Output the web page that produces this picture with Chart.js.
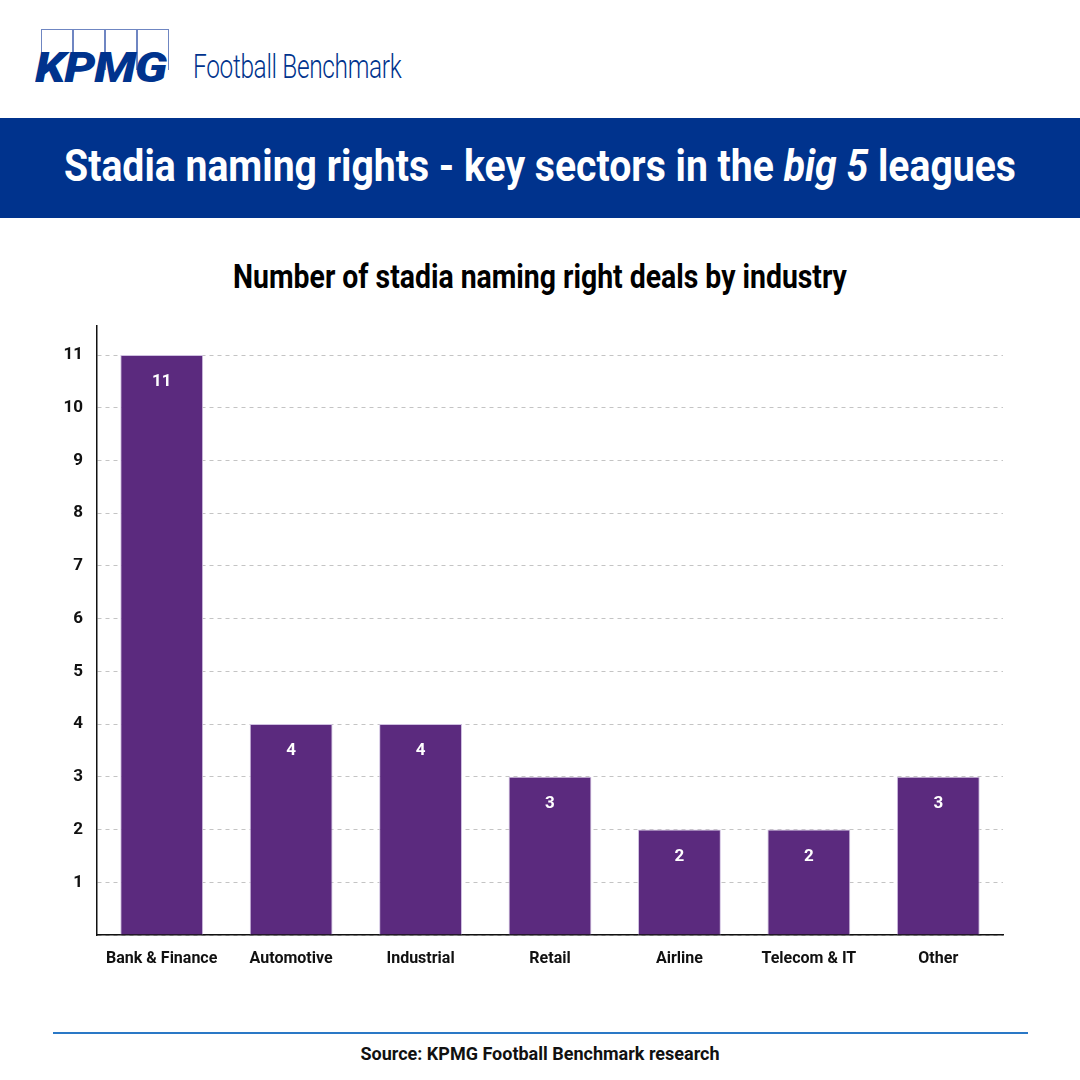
<!DOCTYPE html>
<html lang="en">
<head>
    <meta charset="UTF-8">
    <title>Stadia naming rights</title>
    <script src="https://cdn.jsdelivr.net/npm/chart.js"></script>
    <style>
        body { margin: 0; width: 1080px; height: 1080px; background: #fff; font-family: Roboto, sans-serif; position: relative; overflow: hidden; }
        #logo { position: absolute; left: 33px; top: 29px; height: 56px; width: 140px; }
        .box { position: absolute; top: 0; width: 30px; height: 40px; border: 1.5px solid #6f86c2; border-bottom: none; }
        #kpmg { position: absolute; left: 2px; top: 14px; font: italic 900 42px Roboto, sans-serif; color: #00338d; letter-spacing: -1px; transform: scaleX(1.17); transform-origin: left; }
        #fb { position: absolute; left: 193px; top: 46px; font: 300 34px Roboto, sans-serif; color: #00338d; transform: scaleX(0.72); transform-origin: left; white-space: nowrap; letter-spacing: -0.5px; }
        #banner { position: absolute; left: 0; top: 118px; width: 1080px; height: 100px; background: #00338d; color: #fff; }
        #banner div { position: absolute; left: 0; width: 1080px; top: 22px; text-align: center; font: 700 44px Roboto, sans-serif; transform: scaleX(0.89); white-space: nowrap; }
        #sub { position: absolute; top: 257px; width: 1080px; text-align: center; font: 700 33px Roboto, sans-serif; transform: scaleX(0.86); white-space: nowrap; }
        #wrap { position: absolute; left: 40px; top: 300px; width: 1000px; height: 680px; }
        #rule { position: absolute; left: 53px; top: 1032px; width: 975px; height: 2px; background: #2a78c6; }
        #source { position: absolute; top: 1043px; width: 1080px; text-align: center; font: 700 18px Roboto, sans-serif; color: #111; }
    </style>
</head>
<body>
    <div id="logo">
        <div class="box" style="left:8px"></div>
        <div class="box" style="left:40px"></div>
        <div class="box" style="left:72px"></div>
        <div class="box" style="left:104px"></div>
        <div id="kpmg">KPMG</div>
    </div>
    <div id="fb">Football Benchmark</div>
    <div id="banner"><div>Stadia naming rights - key sectors in the <i>big 5</i> leagues</div></div>
    <div id="sub">Number of stadia naming right deals by industry</div>
    <div id="wrap"><canvas id="dealsChart"></canvas></div>
    <div id="rule"></div>
    <div id="source">Source: KPMG Football Benchmark research</div>

    <script>
        const industries = ["Bank & Finance", "Automotive", "Industrial", "Retail", "Airline", "Telecom & IT", "Other"];
        const deals = [11, 4, 4, 3, 2, 2, 3];
        const yTicks = [1, 2, 3, 4, 5, 6, 7, 8, 9, 10, 11];

        // white numbers drawn inside the top of each bar
        const barValues = {
            id: "barValues",
            afterDatasetsDraw(chart) {
                const ctx = chart.ctx;
                const meta = chart.getDatasetMeta(0);
                ctx.save();
                ctx.fillStyle = "#fff";
                ctx.font = "700 17px Roboto";
                ctx.textAlign = "center";
                ctx.textBaseline = "middle";
                meta.data.forEach((bar, i) => {
                    ctx.fillText(deals[i], bar.x, bar.y + 27);
                });
                ctx.restore();
            }
        };

        new Chart(document.getElementById("dealsChart"), {
            type: "bar",
            data: {
                labels: industries,
                datasets: [{
                    data: deals,
                    backgroundColor: "#5b2a7e",
                    borderColor: "#cfc0e0",
                    borderWidth: 1,
                    categoryPercentage: 0.64,
                    barPercentage: 1
                }]
            },
            options: {
                responsive: true,
                maintainAspectRatio: false,
                animation: false,
                layout: { padding: { top: 26, right: 37, bottom: 0, left: 0 } },
                plugins: { legend: { display: false }, tooltip: { enabled: false } },
                scales: {
                    x: {
                        grid: { display: false },
                        border: { color: "#111", width: 1.5 },
                        ticks: { color: "#111", font: { family: "Roboto", weight: "700", size: 16 }, padding: 6 },
                        afterFit: s => { s.height = 45; }
                    },
                    y: {
                        min: 0,
                        max: 11.55,
                        border: { color: "#111", width: 1.5, display: true, dash: [4, 4] },
                        grid: { color: "#c4c4c4", drawTicks: false },
                        ticks: {
                            stepSize: 1,
                            includeBounds: false,
                            padding: 14,
                            color: "#111",
                            font: { family: "Roboto", weight: "700", size: 17 },
                            callback: v => yTicks.includes(v) ? v : ""
                        },
                        afterFit: s => { s.width = 57; }
                    }
                }
            },
            plugins: [barValues]
        });
    </script>
</body>
</html>
